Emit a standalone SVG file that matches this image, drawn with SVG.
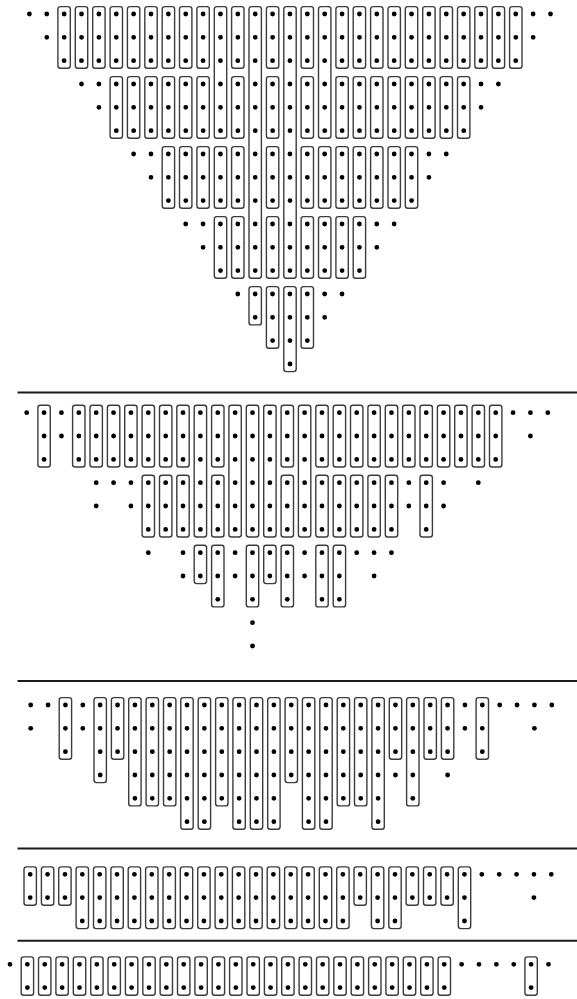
<svg xmlns="http://www.w3.org/2000/svg" width="577" height="999" viewBox="0 0 577 999">
<style>
.bg{fill:#fff}
.dots line{stroke:#000;stroke-width:4.8;stroke-linecap:round;stroke-dasharray:0 17.37;fill:none}
.boxes rect{fill:none;stroke:#3c3c3c;stroke-width:1.4;rx:2.5px;ry:2.5px}
.sep line{stroke:#1a1a1a;stroke-width:2}
</style>
<rect class="bg" x="0" y="0" width="577" height="999"/>
<g id="connectors" class="sep">
<line x1="17.5" y1="392.5" x2="577" y2="392.5"/>
<line x1="17.5" y1="681" x2="577" y2="681"/>
<line x1="17.5" y1="848.5" x2="577" y2="848.5"/>
<line x1="17.5" y1="940.7" x2="577" y2="940.7"/>
</g>
<g id="section1">
<g class="boxes">
<rect x="57.9" y="6.6" width="12.4" height="61.7"/><rect x="75.3" y="6.6" width="12.4" height="61.7"/><rect x="92.7" y="6.6" width="12.4" height="61.7"/><rect x="110.1" y="6.6" width="12.4" height="61.7"/><rect x="127.4" y="6.6" width="12.4" height="61.7"/><rect x="144.8" y="6.6" width="12.4" height="61.7"/><rect x="162.2" y="6.6" width="12.4" height="61.7"/><rect x="179.5" y="6.6" width="12.4" height="61.7"/><rect x="196.9" y="6.6" width="12.4" height="61.7"/><rect x="231.6" y="6.6" width="12.4" height="61.7"/><rect x="266.4" y="6.6" width="12.4" height="61.7"/><rect x="301.1" y="6.6" width="12.4" height="61.7"/><rect x="335.9" y="6.6" width="12.4" height="61.7"/><rect x="353.2" y="6.6" width="12.4" height="61.7"/><rect x="370.6" y="6.6" width="12.4" height="61.7"/><rect x="388.0" y="6.6" width="12.4" height="61.7"/><rect x="405.3" y="6.6" width="12.4" height="61.7"/><rect x="422.7" y="6.6" width="12.4" height="61.7"/><rect x="440.1" y="6.6" width="12.4" height="61.7"/><rect x="457.5" y="6.6" width="12.4" height="61.7"/><rect x="474.8" y="6.6" width="12.4" height="61.7"/><rect x="492.2" y="6.6" width="12.4" height="61.7"/><rect x="509.6" y="6.6" width="12.4" height="61.7"/>
<rect x="214.3" y="6.6" width="12.4" height="131.7"/><rect x="318.5" y="6.6" width="12.4" height="131.7"/>
<rect x="249.0" y="6.6" width="12.4" height="271.6"/><rect x="283.8" y="6.6" width="12.4" height="271.6"/>
<rect x="110.1" y="76.6" width="12.4" height="61.7"/><rect x="127.4" y="76.6" width="12.4" height="61.7"/><rect x="144.8" y="76.6" width="12.4" height="61.7"/><rect x="162.2" y="76.6" width="12.4" height="61.7"/><rect x="179.5" y="76.6" width="12.4" height="61.7"/><rect x="196.9" y="76.6" width="12.4" height="61.7"/><rect x="231.6" y="76.6" width="12.4" height="61.7"/><rect x="266.4" y="76.6" width="12.4" height="61.7"/><rect x="301.1" y="76.6" width="12.4" height="61.7"/><rect x="335.9" y="76.6" width="12.4" height="61.7"/><rect x="353.2" y="76.6" width="12.4" height="61.7"/><rect x="370.6" y="76.6" width="12.4" height="61.7"/><rect x="388.0" y="76.6" width="12.4" height="61.7"/><rect x="405.3" y="76.6" width="12.4" height="61.7"/><rect x="422.7" y="76.6" width="12.4" height="61.7"/><rect x="440.1" y="76.6" width="12.4" height="61.7"/><rect x="457.5" y="76.6" width="12.4" height="61.7"/>
<rect x="162.2" y="146.6" width="12.4" height="61.6"/><rect x="179.5" y="146.6" width="12.4" height="61.6"/><rect x="196.9" y="146.6" width="12.4" height="61.6"/><rect x="214.3" y="146.6" width="12.4" height="61.6"/><rect x="231.6" y="146.6" width="12.4" height="61.6"/><rect x="266.4" y="146.6" width="12.4" height="61.6"/><rect x="301.1" y="146.6" width="12.4" height="61.6"/><rect x="318.5" y="146.6" width="12.4" height="61.6"/><rect x="335.9" y="146.6" width="12.4" height="61.6"/><rect x="353.2" y="146.6" width="12.4" height="61.6"/><rect x="370.6" y="146.6" width="12.4" height="61.6"/><rect x="388.0" y="146.6" width="12.4" height="61.6"/><rect x="405.3" y="146.6" width="12.4" height="61.6"/>
<rect x="214.3" y="216.6" width="12.4" height="61.6"/><rect x="231.6" y="216.6" width="12.4" height="61.6"/><rect x="266.4" y="216.6" width="12.4" height="61.6"/><rect x="301.1" y="216.6" width="12.4" height="61.6"/><rect x="318.5" y="216.6" width="12.4" height="61.6"/><rect x="335.9" y="216.6" width="12.4" height="61.6"/><rect x="353.2" y="216.6" width="12.4" height="61.6"/>
<rect x="249.0" y="286.6" width="12.4" height="38.3"/><rect x="266.4" y="286.6" width="12.4" height="61.6"/><rect x="283.8" y="286.6" width="12.4" height="85"/><rect x="301.1" y="286.6" width="12.4" height="61.6"/>
</g>
<g class="dots">
<line x1="29.4" y1="14" x2="551.0" y2="14"/>
<line x1="46.8" y1="37.3" x2="533.6" y2="37.3"/>
<line x1="64.1" y1="60.7" x2="516.3" y2="60.7"/>
<line x1="81.5" y1="84" x2="498.9" y2="84"/>
<line x1="98.9" y1="107.3" x2="481.5" y2="107.3"/>
<line x1="116.3" y1="130.7" x2="464.2" y2="130.7"/>
<line x1="133.6" y1="154" x2="446.8" y2="154"/>
<line x1="151.0" y1="177.3" x2="429.4" y2="177.3"/>
<line x1="168.4" y1="200.6" x2="412.0" y2="200.6"/>
<line x1="185.7" y1="224" x2="394.7" y2="224"/>
<line x1="203.1" y1="247.3" x2="377.3" y2="247.3"/>
<line x1="220.5" y1="270.6" x2="359.9" y2="270.6"/>
<line x1="237.8" y1="294" x2="342.6" y2="294"/>
<line x1="255.2" y1="317.3" x2="325.2" y2="317.3"/>
<line x1="272.6" y1="340.6" x2="307.8" y2="340.6"/>
<line x1="290.0" y1="364" x2="290.5" y2="364"/>
</g>
</g>
<g id="section2">
<g class="boxes">
<rect x="37.9" y="405.3" width="12.4" height="61.7"/><rect x="72.6" y="405.3" width="12.4" height="61.7"/><rect x="90.0" y="405.3" width="12.4" height="61.7"/><rect x="107.4" y="405.3" width="12.4" height="61.7"/><rect x="124.7" y="405.3" width="12.4" height="61.7"/><rect x="142.1" y="405.3" width="12.4" height="61.7"/><rect x="159.5" y="405.3" width="12.4" height="61.7"/><rect x="176.8" y="405.3" width="12.4" height="61.7"/><rect x="211.6" y="405.3" width="12.4" height="61.7"/><rect x="281.1" y="405.3" width="12.4" height="61.7"/><rect x="315.8" y="405.3" width="12.4" height="61.7"/><rect x="333.2" y="405.3" width="12.4" height="61.7"/><rect x="350.5" y="405.3" width="12.4" height="61.7"/><rect x="367.9" y="405.3" width="12.4" height="61.7"/><rect x="385.3" y="405.3" width="12.4" height="61.7"/><rect x="402.6" y="405.3" width="12.4" height="61.7"/><rect x="420.0" y="405.3" width="12.4" height="61.7"/><rect x="437.4" y="405.3" width="12.4" height="61.7"/><rect x="454.7" y="405.3" width="12.4" height="61.7"/><rect x="472.1" y="405.3" width="12.4" height="61.7"/><rect x="489.5" y="405.3" width="12.4" height="61.7"/>
<rect x="194.2" y="405.3" width="12.4" height="131.7"/><rect x="228.9" y="405.3" width="12.4" height="131.7"/><rect x="246.3" y="405.3" width="12.4" height="131.7"/><rect x="263.7" y="405.3" width="12.4" height="131.7"/><rect x="298.4" y="405.3" width="12.4" height="131.7"/>
<rect x="142.1" y="475.3" width="12.4" height="61.7"/><rect x="159.5" y="475.3" width="12.4" height="61.7"/><rect x="176.8" y="475.3" width="12.4" height="61.7"/><rect x="211.6" y="475.3" width="12.4" height="61.7"/><rect x="281.1" y="475.3" width="12.4" height="61.7"/><rect x="315.8" y="475.3" width="12.4" height="61.7"/><rect x="333.2" y="475.3" width="12.4" height="61.7"/><rect x="350.5" y="475.3" width="12.4" height="61.7"/><rect x="367.9" y="475.3" width="12.4" height="61.7"/><rect x="385.3" y="475.3" width="12.4" height="61.7"/><rect x="420.0" y="475.3" width="12.4" height="61.7"/>
<rect x="194.2" y="545.3" width="12.4" height="38.3"/><rect x="263.7" y="545.3" width="12.4" height="38.3"/>
<rect x="211.6" y="545.3" width="12.4" height="61.6"/><rect x="246.3" y="545.3" width="12.4" height="61.6"/><rect x="281.1" y="545.3" width="12.4" height="61.6"/><rect x="315.8" y="545.3" width="12.4" height="61.6"/><rect x="333.2" y="545.3" width="12.4" height="61.6"/>
</g>
<g class="dots">
<line x1="26.7" y1="412.7" x2="548.3" y2="412.7"/>
<line x1="44.1" y1="436" x2="496.2" y2="436"/><line x1="530.4" y1="436" x2="530.5" y2="436"/>
<line x1="44.1" y1="459.4" x2="44.2" y2="459.4"/><line x1="78.8" y1="459.4" x2="496.2" y2="459.4"/>
<line x1="96.2" y1="482.7" x2="444.1" y2="482.7"/><line x1="478.3" y1="482.7" x2="478.4" y2="482.7"/>
<line x1="96.2" y1="506" x2="96.3" y2="506"/><line x1="130.9" y1="506" x2="444.1" y2="506"/>
<line x1="148.3" y1="529.4" x2="392.0" y2="529.4"/><line x1="426.2" y1="529.4" x2="426.3" y2="529.4"/>
<line x1="148.3" y1="552.7" x2="148.4" y2="552.7"/><line x1="183.0" y1="552.7" x2="392.0" y2="552.7"/>
<line x1="183.0" y1="576" x2="339.9" y2="576"/><line x1="374.1" y1="576" x2="374.2" y2="576"/>
<line x1="217.8" y1="599.3" x2="217.9" y2="599.3"/><line x1="252.5" y1="599.3" x2="252.6" y2="599.3"/><line x1="287.3" y1="599.3" x2="287.4" y2="599.3"/><line x1="322.0" y1="599.3" x2="339.9" y2="599.3"/>
<line x1="252.5" y1="622.7" x2="252.6" y2="622.7"/>
<line x1="252.5" y1="646" x2="252.6" y2="646"/>
</g>
</g>
<g id="section3">
<g class="boxes">
<rect x="59.2" y="697.6" width="12.4" height="61.7"/><rect x="111.4" y="697.6" width="12.4" height="61.7"/><rect x="389.3" y="697.6" width="12.4" height="61.7"/><rect x="424.0" y="697.6" width="12.4" height="61.7"/><rect x="441.4" y="697.6" width="12.4" height="61.7"/><rect x="476.1" y="697.6" width="12.4" height="61.7"/>
<rect x="94.0" y="697.6" width="12.4" height="85"/><rect x="285.1" y="697.6" width="12.4" height="85"/>
<rect x="128.7" y="697.6" width="12.4" height="108.3"/><rect x="146.1" y="697.6" width="12.4" height="108.3"/><rect x="163.5" y="697.6" width="12.4" height="108.3"/><rect x="215.6" y="697.6" width="12.4" height="108.3"/><rect x="337.2" y="697.6" width="12.4" height="108.3"/><rect x="354.5" y="697.6" width="12.4" height="108.3"/><rect x="406.6" y="697.6" width="12.4" height="108.3"/>
<rect x="180.8" y="697.6" width="12.4" height="131.7"/><rect x="198.2" y="697.6" width="12.4" height="131.7"/><rect x="232.9" y="697.6" width="12.4" height="131.7"/><rect x="250.3" y="697.6" width="12.4" height="131.7"/><rect x="267.7" y="697.6" width="12.4" height="131.7"/><rect x="302.4" y="697.6" width="12.4" height="131.7"/><rect x="319.8" y="697.6" width="12.4" height="131.7"/><rect x="371.9" y="697.6" width="12.4" height="131.7"/>
</g>
<g class="dots">
<line x1="30.7" y1="705" x2="552.3" y2="705"/>
<line x1="30.7" y1="728.3" x2="30.8" y2="728.3"/><line x1="65.4" y1="728.3" x2="482.8" y2="728.3"/><line x1="534.4" y1="728.3" x2="534.5" y2="728.3"/>
<line x1="65.4" y1="751.7" x2="65.5" y2="751.7"/><line x1="100.2" y1="751.7" x2="448.1" y2="751.7"/><line x1="482.3" y1="751.7" x2="482.4" y2="751.7"/>
<line x1="100.2" y1="775" x2="100.3" y2="775"/><line x1="134.9" y1="775" x2="413.3" y2="775"/><line x1="447.6" y1="775" x2="447.7" y2="775"/>
<line x1="134.9" y1="798.3" x2="274.4" y2="798.3"/><line x1="308.6" y1="798.3" x2="378.6" y2="798.3"/><line x1="412.8" y1="798.3" x2="412.9" y2="798.3"/>
<line x1="187.0" y1="821.7" x2="204.9" y2="821.7"/><line x1="239.1" y1="821.7" x2="274.4" y2="821.7"/><line x1="308.6" y1="821.7" x2="326.5" y2="821.7"/><line x1="378.1" y1="821.7" x2="378.2" y2="821.7"/>
</g>
</g>
<g id="section4">
<g class="boxes">
<rect x="24.0" y="866.9" width="12.4" height="38.3"/><rect x="41.4" y="866.9" width="12.4" height="38.3"/><rect x="58.7" y="866.9" width="12.4" height="38.3"/><rect x="354.0" y="866.9" width="12.4" height="38.3"/><rect x="406.1" y="866.9" width="12.4" height="38.3"/><rect x="423.5" y="866.9" width="12.4" height="38.3"/><rect x="440.9" y="866.9" width="12.4" height="38.3"/>
<rect x="76.1" y="866.9" width="12.4" height="61.7"/><rect x="93.5" y="866.9" width="12.4" height="61.7"/><rect x="110.9" y="866.9" width="12.4" height="61.7"/><rect x="128.2" y="866.9" width="12.4" height="61.7"/><rect x="145.6" y="866.9" width="12.4" height="61.7"/><rect x="163.0" y="866.9" width="12.4" height="61.7"/><rect x="180.3" y="866.9" width="12.4" height="61.7"/><rect x="197.7" y="866.9" width="12.4" height="61.7"/><rect x="215.1" y="866.9" width="12.4" height="61.7"/><rect x="232.4" y="866.9" width="12.4" height="61.7"/><rect x="249.8" y="866.9" width="12.4" height="61.7"/><rect x="267.2" y="866.9" width="12.4" height="61.7"/><rect x="284.6" y="866.9" width="12.4" height="61.7"/><rect x="301.9" y="866.9" width="12.4" height="61.7"/><rect x="319.3" y="866.9" width="12.4" height="61.7"/><rect x="336.7" y="866.9" width="12.4" height="61.7"/><rect x="371.4" y="866.9" width="12.4" height="61.7"/><rect x="388.8" y="866.9" width="12.4" height="61.7"/><rect x="458.3" y="866.9" width="12.4" height="61.7"/>
</g>
<g class="dots">
<line x1="30.2" y1="874.3" x2="551.8" y2="874.3"/>
<line x1="30.2" y1="897.6" x2="465.0" y2="897.6"/><line x1="533.9" y1="897.6" x2="534.0" y2="897.6"/>
<line x1="82.3" y1="921" x2="343.4" y2="921"/><line x1="377.6" y1="921" x2="395.5" y2="921"/><line x1="464.5" y1="921" x2="464.6" y2="921"/>
</g>
</g>
<g id="section5">
<g class="boxes">
<rect x="21.2" y="956.9" width="12.4" height="38.3"/><rect x="38.5" y="956.9" width="12.4" height="38.3"/><rect x="55.9" y="956.9" width="12.4" height="38.3"/><rect x="73.3" y="956.9" width="12.4" height="38.3"/><rect x="90.7" y="956.9" width="12.4" height="38.3"/><rect x="108.0" y="956.9" width="12.4" height="38.3"/><rect x="125.4" y="956.9" width="12.4" height="38.3"/><rect x="142.8" y="956.9" width="12.4" height="38.3"/><rect x="160.1" y="956.9" width="12.4" height="38.3"/><rect x="177.5" y="956.9" width="12.4" height="38.3"/><rect x="194.9" y="956.9" width="12.4" height="38.3"/><rect x="212.2" y="956.9" width="12.4" height="38.3"/><rect x="229.6" y="956.9" width="12.4" height="38.3"/><rect x="247.0" y="956.9" width="12.4" height="38.3"/><rect x="264.4" y="956.9" width="12.4" height="38.3"/><rect x="281.7" y="956.9" width="12.4" height="38.3"/><rect x="299.1" y="956.9" width="12.4" height="38.3"/><rect x="316.5" y="956.9" width="12.4" height="38.3"/><rect x="333.8" y="956.9" width="12.4" height="38.3"/><rect x="351.2" y="956.9" width="12.4" height="38.3"/><rect x="368.6" y="956.9" width="12.4" height="38.3"/><rect x="385.9" y="956.9" width="12.4" height="38.3"/><rect x="403.3" y="956.9" width="12.4" height="38.3"/><rect x="420.7" y="956.9" width="12.4" height="38.3"/><rect x="438.1" y="956.9" width="12.4" height="38.3"/><rect x="524.9" y="956.9" width="12.4" height="38.3"/>
</g>
<g class="dots">
<line x1="10.0" y1="964.3" x2="549.0" y2="964.3"/>
<line x1="27.4" y1="987.6" x2="444.8" y2="987.6"/><line x1="531.1" y1="987.6" x2="531.2" y2="987.6"/>
</g>
</g>
</svg>
